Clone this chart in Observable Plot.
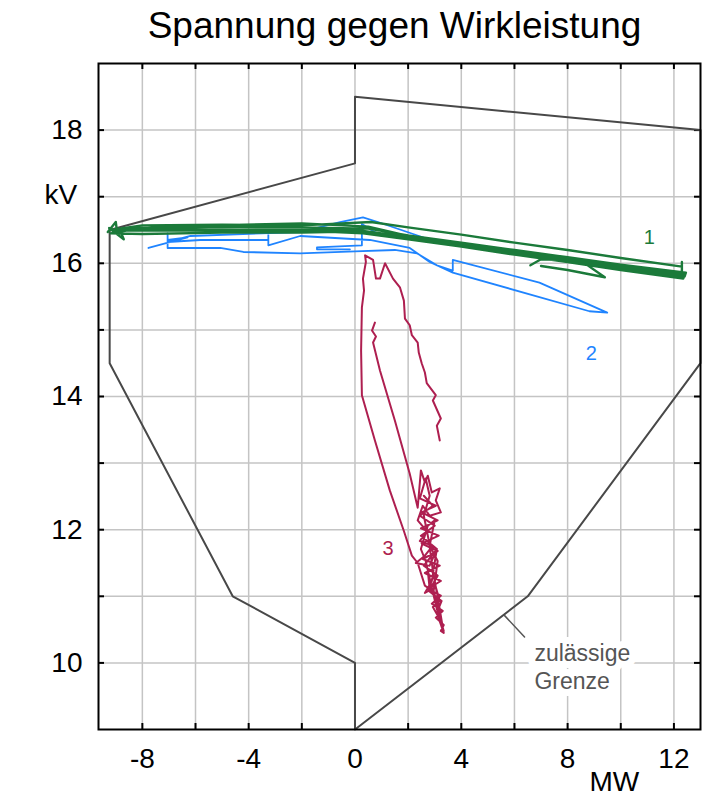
<!DOCTYPE html>
<html><head><meta charset="utf-8">
<script src="https://cdn.jsdelivr.net/npm/d3@7"></script>
<script src="https://cdn.jsdelivr.net/npm/@observablehq/plot@0.6"></script>
<style>body{margin:0;background:#fff;} svg{display:block;}</style>
</head><body><div id="chart"></div>
<script>
const title = "Spannung gegen Wirkleistung";
const xUnit = "MW";
const yUnit = "kV";
const xTickValues = [-8, -4, 0, 4, 8, 12];
const yTickValues = [10, 12, 14, 16, 18];
const xGridValues = [-8, -6, -4, -2, 0, 2, 4, 6, 8, 10, 12];
const yGridValues = [10, 11, 12, 13, 14, 15, 16, 17, 18];

// permissible limit ("zulässige Grenze")
const limitLine = [[0, 9], [0, 10], [-4.6, 11], [-9.23, 14.5], [-9.23, 16.5], [0, 17.5], [0, 18.5], [13, 18], [13, 14.5], [6.5, 11], [0, 9]];
const limitPointer = [[5.63, 10.71], [6.38, 10.39]];
const limitLabel = [{text: "zulässige\nGrenze", x: 6.75, y: 10.33}];

// trajectory 1 (green)
const series1 = [
  [-9.3,16.47],[-9.0,16.62],[-8.95,16.47],[-9.25,16.53],[-8.7,16.36],[-8.85,16.5],
  [-7.5,16.52],[-5,16.51],[-2,16.5],[0,16.5],[0.6,16.47],[2,16.39],[4,16.27],[6,16.16],[8,16.04],[10,15.93],[12.4,15.80],
  [12.45,15.86],[10,15.98],[8,16.09],[6,16.2],[4,16.31],[2,16.42],[0.5,16.52],[-2,16.54],[-5,16.55],[-8,16.53],[-9.2,16.5],
  [-8,16.57],[-5,16.58],[-2,16.57],[0.6,16.62],[2,16.54],[4,16.43],[6,16.31],[8,16.2],[10,16.08],[12.3,15.95],[12.3,16.02],[12.3,15.84],
  [10,15.95],[8,16.06],[6,16.18],[4,16.29],[2,16.40],[0.4,16.48],[-2,16.46],[-5,16.46],[-8,16.44],[-9.2,16.45],
  [-8.6,16.49],[-5,16.49],[-2,16.49],[0.3,16.45],[2,16.36],[4,16.25],[6,16.13],[8,16.02],[10,15.90],[12.35,15.77],
  [12.4,15.83],[10,15.96],[8,16.07],[6,16.18],[4,16.3],[2,16.41],[0.5,16.55],[-2,16.6],[-5,16.57],[-7,16.55],[-9.1,16.5],
  [null,null],
  [6.6,15.97],[7.0,16.06],[8.5,16.04],[9.4,15.79],[8.0,15.9],[7.0,15.96]
];

// trajectory 2 (blue)
const series2 = [
  [-7.77,16.23],[-6.30,16.39],[-7.05,16.35],[-7.05,16.45],[-7.05,16.23],[-5.07,16.23],[-4.20,16.17],[-2.06,16.15],[0.0,16.18],[1.50,16.20],[2.33,16.15],[3.08,15.97],[3.68,15.89],[3.68,16.05],[6.94,15.71],[9.49,15.26],[8.82,15.28],[3.68,15.86],[2.81,16.02],[2.06,16.23],[0.56,16.35],[-2.06,16.41],[-3.26,16.27],[-3.26,16.45],[-3.26,16.35],[-5.82,16.35],[-7.05,16.32],[-6.19,16.41],[-2.06,16.47],[-0.56,16.62],[0.30,16.69],[0.86,16.62],[2.63,16.38],[0.94,16.42],[0.26,16.59],[0.26,16.27],[-1.43,16.24],[-1.43,16.21],[-0.19,16.21]
];

// trajectory 3 (crimson)
const series3 = [
  [3.19,13.34],[3.08,13.56],[3.23,13.67],[2.93,13.94],[3.04,14.02],[2.70,14.20],[2.63,14.36],[2.51,14.50],[2.40,14.66],[2.36,14.81],[2.14,14.92],[2.06,15.07],[1.88,15.17],[1.84,15.44],[1.69,15.64],[1.43,15.77],[1.13,16.00],[0.94,15.77],[0.79,15.77],[0.68,16.05],[0.38,16.12],[0.41,16.02],[0.30,15.77],[0.34,15.59],[0.26,15.34],[0.23,14.69],[0.26,14.02],[0.75,13.34],[1.31,12.59],[1.84,11.98],[2.14,11.61],[2.36,11.50],[2.63,11.16],[2.81,11.11],[2.74,11.38],
  [null,null],
  [0.75,15.11],[0.64,14.99],[0.79,14.90],[0.68,14.81],[0.94,14.39],[1.50,13.64],[2.06,12.84],[2.36,12.33],
  [2.48,12.89],[2.63,12.71],[2.74,12.81],[2.89,12.56],[3.19,12.62],[3.04,12.44],[3.23,12.26],[2.81,12.21],[2.55,12.36],[2.36,12.14],[2.70,11.98],[2.44,11.83],[2.93,11.76],[2.63,11.61],[2.29,11.50],[2.81,11.46],[3.08,11.71],[2.89,11.23],[2.63,11.05],[3.04,11.14],[3.19,10.93],[2.93,10.84],[3.23,10.63],[3.34,10.48],[3.08,10.81],[2.85,11.20],[2.66,11.53],[2.48,11.71],[2.74,12.06],[3.00,12.14],[2.81,11.76],[3.11,11.53],[2.96,11.08],[3.19,10.75],[3.30,10.54],[3.11,10.99],[2.93,11.38],[2.78,11.83],[2.59,12.21],[2.81,12.51],[2.66,12.77],
  [2.44,12.47],[3.04,12.36],[2.51,12.26],[3.11,12.14],[2.48,12.02],[3.15,11.91],[2.51,11.79],[3.11,11.68],[2.55,11.56],[3.19,11.46],[2.63,11.35],[3.23,11.23],[2.74,11.11],[3.23,11.01],[2.89,10.89],[3.30,10.78],[3.04,10.68],[3.34,10.57],[3.23,10.48],[3.34,10.45],[3.08,10.75],[3.26,10.93],[2.78,11.08],[3.11,11.31],[2.59,11.46],[3.08,11.71],[2.48,11.91],[3.00,12.06],[2.44,12.21],[2.93,12.36],[2.59,12.51]
];

const seriesLabels = [
  {text: "1", x: 11.07, y: 16.39, series: "1"},
  {text: "2", x: 8.89, y: 14.65, series: "2"},
  {text: "3", x: 1.24, y: 11.71, series: "3"}
];
const yUnitPosition = [17.03];
const xUnitPosition = [9.76];

const colors = {"1": "#1b7a3a", "2": "#1f84ff", "3": "#ae1f50"};
const font = "'Liberation Sans', Arial, Helvetica, sans-serif";
const X = d => d[0], Y = d => d[1];
const frameW = 702 - 98 - 2, frameH = 797 - 63 - 68, tick = 6;

const chart = Plot.plot({
  width: 702,
  height: 797,
  marginLeft: 98,
  marginRight: 2,
  marginTop: 63,
  marginBottom: 68,
  style: {fontFamily: font, background: "#fff"},
  x: {domain: [-9.65, 13]},
  y: {domain: [9, 19]},
  marks: [
    Plot.gridX(xGridValues, {stroke: "#c4c4c4", strokeOpacity: 1, strokeWidth: 1.5}),
    Plot.gridY(yGridValues, {stroke: "#c4c4c4", strokeOpacity: 1, strokeWidth: 1.5}),
    Plot.axisX(xTickValues, {anchor: "bottom", tickSize: 0, tickPadding: 19, fontSize: 28, label: null, tickFormat: d => String(d)}),
    Plot.axisY(yTickValues, {anchor: "left", tickSize: 0, tickPadding: 16, fontSize: 28, label: null, tickFormat: d => String(d)}),
    // inward ticks on all four sides
    Plot.ruleX(xGridValues, {insetTop: frameH - tick, stroke: "black", strokeWidth: 2}),
    Plot.ruleX(xGridValues, {insetBottom: frameH - tick, stroke: "black", strokeWidth: 2}),
    Plot.ruleY(yGridValues, {insetRight: frameW - tick, stroke: "black", strokeWidth: 2}),
    Plot.ruleY(yGridValues, {insetLeft: frameW - tick, stroke: "black", strokeWidth: 2}),
    Plot.line(limitLine, {x: X, y: Y, stroke: "#484848", strokeWidth: 2}),
    Plot.line(limitPointer, {x: X, y: Y, stroke: "#555", strokeWidth: 1.5}),
    Plot.line(series2, {x: X, y: Y, stroke: colors["2"], strokeWidth: 1.8}),
    Plot.line(series1, {x: X, y: Y, stroke: colors["1"], strokeWidth: 2.4}),
    Plot.line(series3, {x: X, y: Y, stroke: colors["3"], strokeWidth: 2}),
    Plot.text(limitLabel, {x: "x", y: "y", text: "text", textAnchor: "start", lineAnchor: "top", lineHeight: 1.22, fontSize: 23, fill: "#555", stroke: "white", strokeWidth: 14}),
    Plot.text(seriesLabels, {x: "x", y: "y", text: "text", fontSize: 20, fill: d => colors[d.series]}),
    Plot.text([yUnit], {y: yUnitPosition, frameAnchor: "left", dx: -54, fontSize: 28, fill: "black", text: d => d}),
    Plot.text([xUnit], {x: xUnitPosition, frameAnchor: "bottom", dy: 61, lineAnchor: "bottom", fontSize: 28, fill: "black", text: d => d}),
    Plot.text([title], {frameAnchor: "top", dy: -26, dx: -5, lineAnchor: "bottom", fontSize: 37, fill: "black", text: d => d}),
    Plot.frame({stroke: "black", strokeWidth: 2})
  ]
});
document.getElementById("chart").appendChild(chart);
</script>
</body></html>
